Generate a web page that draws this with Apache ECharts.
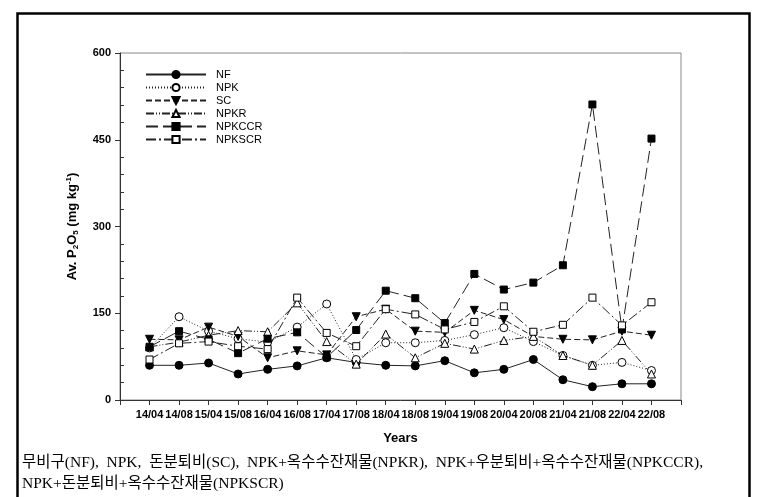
<!DOCTYPE html>
<html>
<head>
<meta charset="utf-8">
<script src="https://cdn.jsdelivr.net/npm/echarts@6/dist/echarts.min.js"></script>
<style>
  html, body { margin: 0; padding: 0; background: #fff; }
  #chart { width: 766px; height: 497px; }
</style>
</head>
<body>
<div id="chart"></div>
<script>
// sampling dates (yy/mm)
const categories = ['14/04', '14/08', '15/04', '15/08', '16/04', '16/08', '17/04', '17/08', '18/04',
  '18/08', '19/04', '19/08', '20/04', '20/08', '21/04', '21/08', '22/04', '22/08']

// Av. P2O5, mg/kg
const nf     = [60, 60, 64, 45, 53, 59, 73, 65, 60, 59, 68, 47, 53, 70, 35, 23, 28, 28]
const npk    = [90, 144, 119, 106, 100, 126, 166, 70, 99, 99, 103, 113, 125, 101, 77, 60, 65, 51]
const sc     = [105, 104, 126, 110, 73, 85, 78, 144, 157, 119, 117, 155, 139, 110, 105, 104, 119, 112]
const npkr   = [92, 100, 112, 120, 118, 168, 101, 62, 114, 73, 98, 88, 103, 110, 77, 60, 103, 45]
const npkccr = [92, 119, 105, 81, 106, 117, 74, 121, 189, 176, 133, 218, 191, 203, 233, 511, 122, 452]
const npkscr = [70, 98, 101, 93, 88, 177, 116, 93, 157, 148, 122, 135, 162, 118, 130, 177, 129, 169]

const yTicks = [0, 150, 300, 450, 600]

const caption1 = '무비구(NF),  NPK,  돈분퇴비(SC),  NPK+옥수수잔재물(NPKR),  NPK+우분퇴비+옥수수잔재물(NPKCCR),'
const caption2 = 'NPK+돈분퇴비+옥수수잔재물(NPKSCR)'

const chart = echarts.init(document.getElementById('chart'))

const toPts = arr => arr.map((v, i) => [i + 1, v])
const open = { color: '#fff', borderColor: '#000', borderWidth: 1 }
const filled = { color: '#000', borderColor: '#000', borderWidth: 1 }

const defs = [
  { name: 'NF', data: nf, symbol: 'circle', size: 8, item: filled, dash: 'solid' },
  { name: 'NPK', data: npk, symbol: 'circle', size: 8, item: open, dash: [1, 2] },
  { name: 'SC', data: sc, symbol: 'triangle', size: 8, rotate: 180, item: filled, dash: [6, 3] },
  { name: 'NPKR', data: npkr, symbol: 'triangle', size: 8, item: open, dash: [8, 2, 1, 2, 1, 2] },
  { name: 'NPKCCR', data: npkccr, symbol: 'rect', size: 7, item: filled, dash: [12, 5] },
  { name: 'NPKSCR', data: npkscr, symbol: 'rect', size: 7, item: open, dash: [10, 3, 2, 3] },
]

const captionFont = 'Liberation Serif, Noto Sans CJK KR'

chart.setOption({
  animation: false,
  textStyle: { fontFamily: 'Liberation Sans, Arial, sans-serif' },
  grid: { left: 120, right: 85, top: 53, bottom: 97, show: true, borderColor: '#888', borderWidth: 1 },
  legend: {
    orient: 'vertical', left: 140, top: 64,
    itemWidth: 60, itemHeight: 9, itemGap: 2,
    textStyle: { fontSize: 11, color: '#000', padding: [0, 0, 0, 5] },
    data: defs.map(d => d.name),
  },
  xAxis: {
    type: 'value', min: 0, max: 19, interval: 1,
    name: 'Years', nameLocation: 'middle', nameGap: 32,
    nameTextStyle: { fontSize: 13, fontWeight: 'bold', color: '#000' },
    axisLine: { lineStyle: { color: '#333' } },
    axisTick: { show: true, length: 5, lineStyle: { color: '#333' } },
    axisLabel: { fontSize: 11, fontWeight: 'bold', color: '#000', margin: 9,
      formatter: v => categories[v - 1] || '' },
    splitLine: { show: false },
  },
  yAxis: {
    type: 'value', min: 0, max: 600, interval: 150,
    name: 'Av. P{sub|2}O{sub|5} (mg kg{sup|-1})', nameLocation: 'middle', nameGap: 40, nameRotate: 90,
    nameTextStyle: {
      fontSize: 13, fontWeight: 'bold', color: '#000',
      rich: {
        sub: { fontSize: 8, fontWeight: 'bold', color: '#000', padding: [7, 0, 0, 0] },
        sup: { fontSize: 8, fontWeight: 'bold', color: '#000', padding: [0, 0, 7, 0] },
      },
    },
    axisLine: { show: true, lineStyle: { color: '#333' } },
    axisTick: { show: true, length: 5, lineStyle: { color: '#333' } },
    minorTick: { show: true, splitNumber: 5, length: -4, lineStyle: { color: '#333' } },
    axisLabel: { fontSize: 11, fontWeight: 'bold', color: '#000', margin: 9,
      formatter: v => yTicks.includes(v) ? String(v) : '' },
    splitLine: { show: false },
  },
  series: defs.map(d => ({
    name: d.name,
    type: 'line',
    data: toPts(d.data),
    symbol: d.symbol,
    symbolSize: d.size,
    symbolRotate: d.rotate || 0,
    showAllSymbol: true,
    lineStyle: { color: '#222', width: 1, type: d.dash },
    itemStyle: d.item,
  })),
  graphic: [
    { type: 'rect', left: 15, top: 11, shape: { width: 732, height: 485 },
      style: { fill: 'none', stroke: '#000', lineWidth: 2.5 }, silent: true },
    { type: 'text', left: 22, top: 455,
      style: { text: caption1, fontSize: 15.5, fill: '#000', fontFamily: captionFont } },
    { type: 'text', left: 22, top: 476,
      style: { text: caption2, fontSize: 15.5, fill: '#000', fontFamily: captionFont } },
  ],
})
</script>
</body>
</html>
